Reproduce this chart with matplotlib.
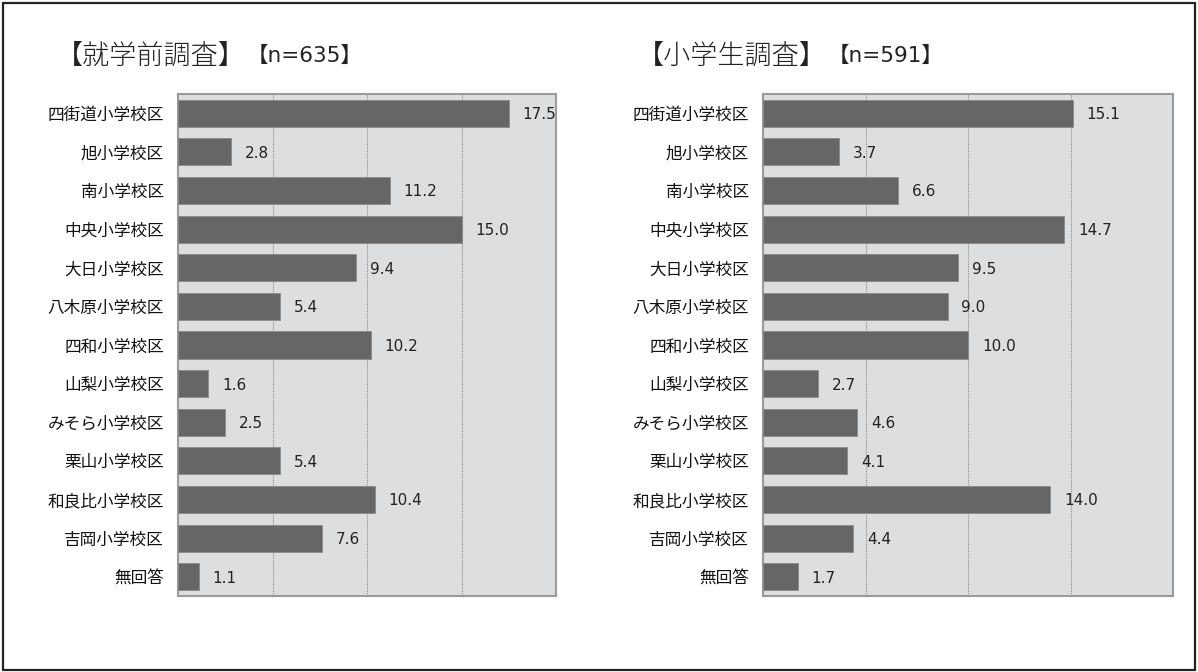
import matplotlib
matplotlib.use("Agg")
import matplotlib.pyplot as plt
from matplotlib.patches import Rectangle

plt.rcParams['font.family'] = ['Noto Sans CJK JP', 'DejaVu Sans']

categories = ["四街道小学校区", "旭小学校区", "南小学校区", "中央小学校区", "大日小学校区",
              "八木原小学校区", "四和小学校区", "山梨小学校区", "みそら小学校区", "栗山小学校区",
              "和良比小学校区", "吉岡小学校区", "無回答"]
preschool = [17.5, 2.8, 11.2, 15.0, 9.4, 5.4, 10.2, 1.6, 2.5, 5.4, 10.4, 7.6, 1.1]
elementary = [15.1, 3.7, 6.6, 14.7, 9.5, 9.0, 10.0, 2.7, 4.6, 4.1, 14.0, 4.4, 1.7]

titles = ["【就学前調査】", "【小学生調査】"]
subtitles = ["【n=635】", "【n=591】"]

W, H = 1198, 672
fig = plt.figure(figsize=(W / 100, H / 100), dpi=100)

# outer frame
fig.patches.append(Rectangle((3 / W, 2 / H), (W - 6) / W, (H - 5) / H,
                             transform=fig.transFigure, fill=False,
                             edgecolor='#222222', linewidth=1.6))


def px_axes(x0, x1, y0, y1):
    return fig.add_axes([x0 / W, (H - y1) / H, (x1 - x0) / W, (y1 - y0) / H])


def draw_panel(ax, values):
    y = list(range(len(categories)))
    ax.set_facecolor('#dddee0')
    ax.barh(y, values, height=0.7, color='#666666', edgecolor='#8a8a8a',
            linewidth=0.6, zorder=3)
    ax.set_xlim(0, 20)
    ax.set_ylim(len(categories) - 0.5, -0.5)
    for gx in [5, 10, 15]:
        ax.axvline(gx, color='#8c8c8c', linestyle=(0, (1, 1)), linewidth=0.8, zorder=1)
    ax.set_xticks([])
    ax.set_yticks(y)
    ax.set_yticklabels(categories, fontsize=12, color='#111111')
    ax.tick_params(axis='y', length=0, pad=10)
    for s in ax.spines.values():
        s.set_color('#9a9a9a')
        s.set_linewidth(1.5)
    for yi, v in zip(y, values):
        ax.annotate(f"{v:.1f}", (v, yi), xytext=(10, -1), textcoords='offset points',
                    ha='left', va='center', fontsize=11, color='#222222',
                    family=['Liberation Sans Narrow', 'DejaVu Sans'])


ax1 = px_axes(178, 556, 94, 596)
draw_panel(ax1, preschool)
ax2 = px_axes(763, 1173, 94, 596)
draw_panel(ax2, elementary)

# titles
ty = 1 - 56 / H
sub_font = ['DejaVu Sans', 'Noto Sans CJK JP']
fig.text(56 / W, ty, titles[0], fontsize=19.5, va='center', ha='left',
         color='#222222', fontweight='light')
fig.text(247 / W, ty, subtitles[0], fontsize=15.5, va='center', ha='left',
         color='#222222', family=sub_font)
fig.text(637 / W, ty, titles[1], fontsize=19.5, va='center', ha='left',
         color='#222222', fontweight='light')
fig.text(828 / W, ty, subtitles[1], fontsize=15.5, va='center', ha='left',
         color='#222222', family=sub_font)

fig.savefig("out.png", dpi=100)
